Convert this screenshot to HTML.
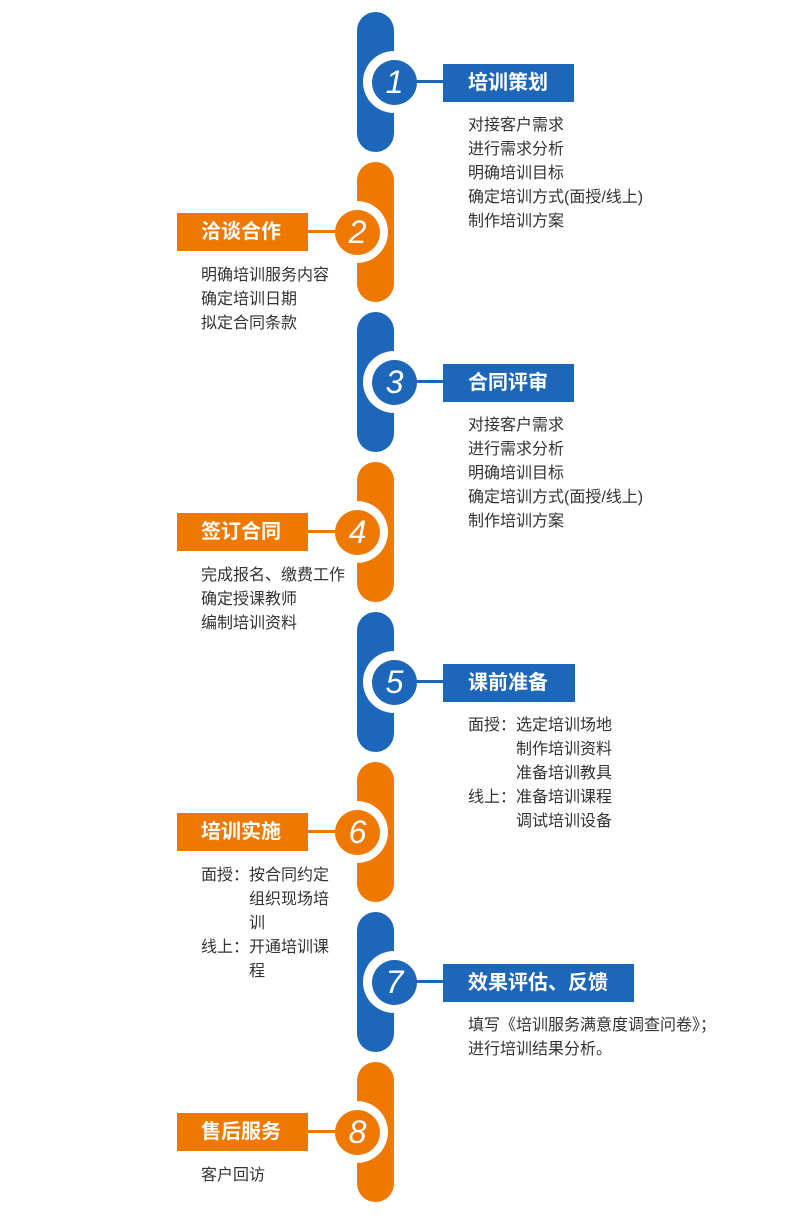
<!DOCTYPE html>
<html><head><meta charset="utf-8"><style>
body{margin:0;width:792px;height:1230px;background:#fff;position:relative;overflow:hidden;font-family:"Liberation Sans","Noto Sans CJK SC",sans-serif}
div{position:absolute;box-sizing:border-box}
.pill{left:357px;width:37px;height:140px;border-radius:18.5px}
.b{background:#1d67bb}.o{background:#ee7800}
.ring{width:62px;height:62px;border-radius:50%;background:#fff}
.dot{width:45px;height:45px;border-radius:50%;color:#fff;font-family:"Liberation Sans",sans-serif;font-style:italic;font-size:32px;line-height:45px;text-align:center}
.ln{height:3px}
.box{height:38px;color:#fff;font-weight:bold;font-size:20px;line-height:38px;padding-left:25px;white-space:nowrap}
.txt{color:#333;font-size:16px;line-height:24px;white-space:nowrap}
.t{display:inline-block;width:48px}
.i{padding-left:48px}
</style></head><body>
<!-- 1 -->
<div class="pill b" style="top:12px"></div>
<div class="ring" style="left:363px;top:51px"></div>
<div class="dot b" style="left:372px;top:60px">1</div>
<div class="ln b" style="left:416px;top:80px;width:30px"></div>
<div class="box b" style="left:443px;top:64px;width:131px">培训策划</div>
<div class="txt" style="left:468px;top:114px">对接客户需求<br>进行需求分析<br>明确培训目标<br>确定培训方式(面授/线上)<br>制作培训方案</div>
<!-- 2 -->
<div class="pill o" style="top:162px"></div>
<div class="ring" style="left:326px;top:201px"></div>
<div class="dot o" style="left:335px;top:210px">2</div>
<div class="ln o" style="left:306px;top:230px;width:32px"></div>
<div class="box o" style="left:177px;top:213px;width:131px;padding-left:24px">洽谈合作</div>
<div class="txt" style="left:201px;top:264px">明确培训服务内容<br>确定培训日期<br>拟定合同条款</div>
<!-- 3 -->
<div class="pill b" style="top:312px"></div>
<div class="ring" style="left:363px;top:351px"></div>
<div class="dot b" style="left:372px;top:360px">3</div>
<div class="ln b" style="left:416px;top:380px;width:30px"></div>
<div class="box b" style="left:443px;top:364px;width:131px">合同评审</div>
<div class="txt" style="left:468px;top:414px">对接客户需求<br>进行需求分析<br>明确培训目标<br>确定培训方式(面授/线上)<br>制作培训方案</div>
<!-- 4 -->
<div class="pill o" style="top:462px"></div>
<div class="ring" style="left:326px;top:501px"></div>
<div class="dot o" style="left:335px;top:510px">4</div>
<div class="ln o" style="left:306px;top:530px;width:32px"></div>
<div class="box o" style="left:177px;top:513px;width:131px;padding-left:24px">签订合同</div>
<div class="txt" style="left:201px;top:564px">完成报名、缴费工作<br>确定授课教师<br>编制培训资料</div>
<!-- 5 -->
<div class="pill b" style="top:612px"></div>
<div class="ring" style="left:363px;top:651px"></div>
<div class="dot b" style="left:372px;top:660px">5</div>
<div class="ln b" style="left:416px;top:680px;width:30px"></div>
<div class="box b" style="left:443px;top:664px;width:132px">课前准备</div>
<div class="txt" style="left:468px;top:714px"><span class="t">面授：</span>选定培训场地<br><span class="i">制作培训资料</span><br><span class="i">准备培训教具</span><br><span class="t">线上：</span>准备培训课程<br><span class="i">调试培训设备</span></div>
<!-- 6 -->
<div class="pill o" style="top:762px"></div>
<div class="ring" style="left:326px;top:801px"></div>
<div class="dot o" style="left:335px;top:810px">6</div>
<div class="ln o" style="left:306px;top:830px;width:32px"></div>
<div class="box o" style="left:177px;top:813px;width:131px;padding-left:24px">培训实施</div>
<div class="txt" style="left:201px;top:864px"><span class="t">面授：</span>按合同约定<br><span class="i">组织现场培</span><br><span class="i">训</span><br><span class="t">线上：</span>开通培训课<br><span class="i">程</span></div>
<!-- 7 -->
<div class="pill b" style="top:912px"></div>
<div class="ring" style="left:363px;top:951px"></div>
<div class="dot b" style="left:372px;top:960px">7</div>
<div class="ln b" style="left:416px;top:980px;width:30px"></div>
<div class="box b" style="left:443px;top:964px;width:191px">效果评估、反馈</div>
<div class="txt" style="left:468px;top:1014px">填写《培训服务满意度调查问卷》；<br>进行培训结果分析。</div>
<!-- 8 -->
<div class="pill o" style="top:1062px"></div>
<div class="ring" style="left:326px;top:1101px"></div>
<div class="dot o" style="left:335px;top:1110px">8</div>
<div class="ln o" style="left:306px;top:1130px;width:32px"></div>
<div class="box o" style="left:177px;top:1113px;width:131px;padding-left:24px">售后服务</div>
<div class="txt" style="left:201px;top:1164px">客户回访</div>
</body></html>
